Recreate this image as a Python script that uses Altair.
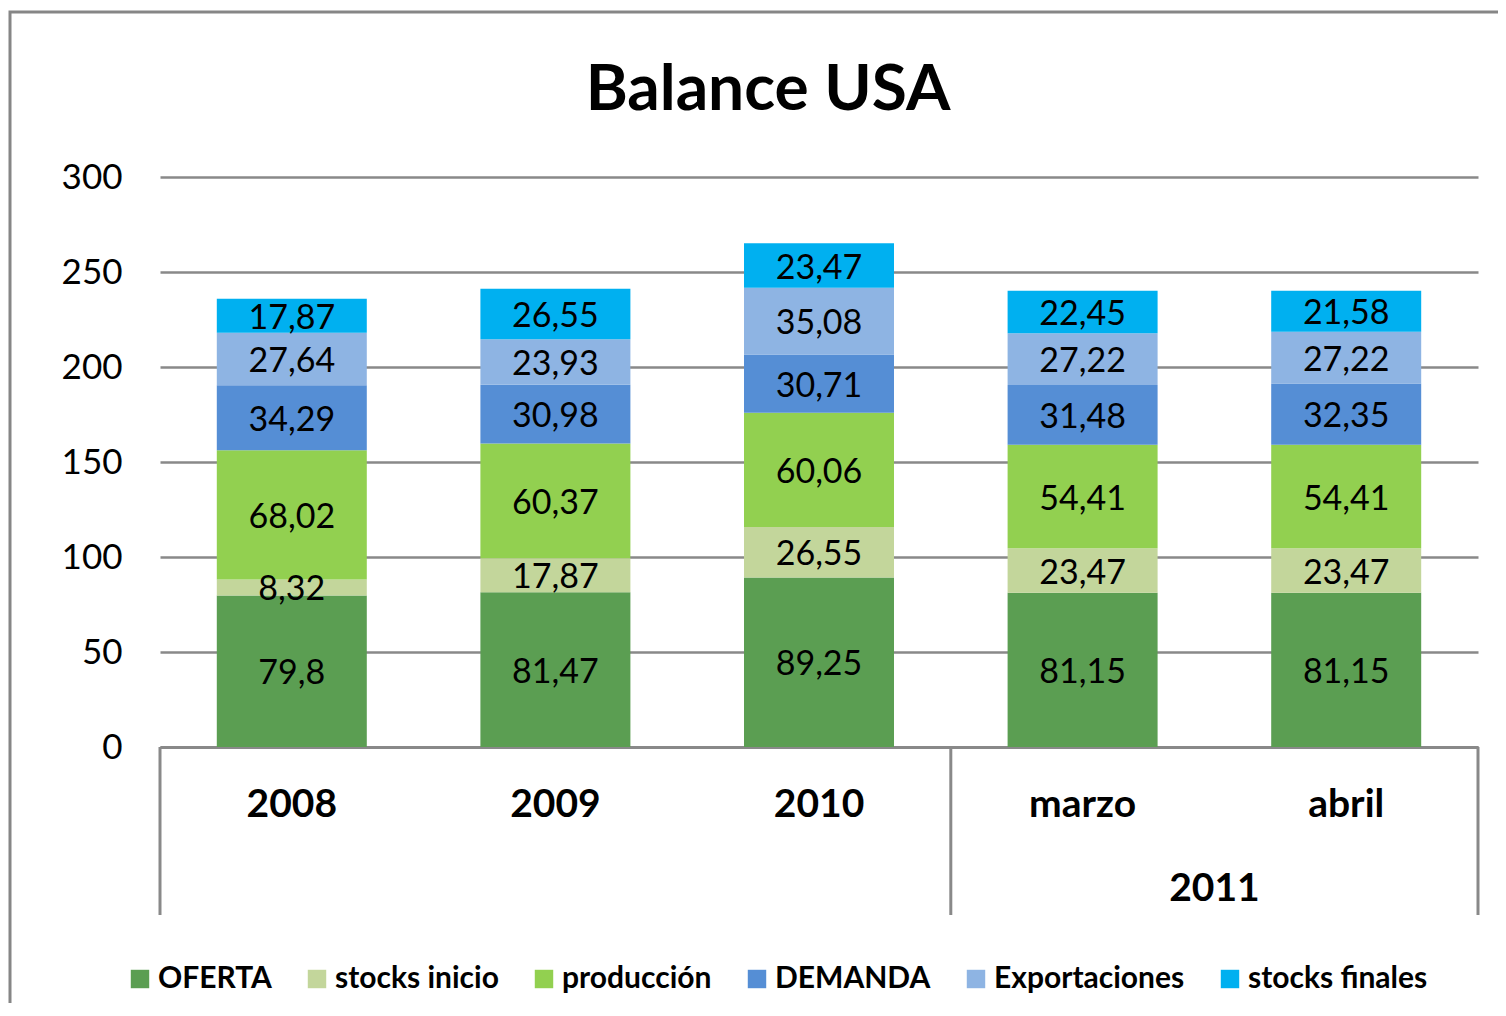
import altair as alt
import pandas as pd

chart_title = "Balance USA"
categories = ["2008", "2009", "2010", "marzo", "abril"]
group_label = "2011"
series = ["OFERTA", "stocks inicio", "producción", "DEMANDA", "Exportaciones", "stocks finales"]
colors = ["#5B9E52", "#C3D69B", "#92D050", "#558ED5", "#8EB4E3", "#00B0F0"]

oferta = [79.8, 81.47, 89.25, 81.15, 81.15]
stocks_inicio = [8.32, 17.87, 26.55, 23.47, 23.47]
produccion = [68.02, 60.37, 60.06, 54.41, 54.41]
demanda = [34.29, 30.98, 30.71, 31.48, 32.35]
exportaciones = [27.64, 23.93, 35.08, 27.22, 27.22]
stocks_finales = [17.87, 26.55, 23.47, 22.45, 21.58]
y_ticks = [0, 50, 100, 150, 200, 250, 300]

values = [oferta, stocks_inicio, produccion, demanda, exportaciones, stocks_finales]
rows = []
for si, (s, vals) in enumerate(zip(series, values)):
    for c, v in zip(categories, vals):
        rows.append({"cat": c, "serie": s, "order": si, "value": v,
                     "label": str(v).replace(".", ",")})
df = pd.DataFrame(rows)

GRID = "#898989"
FONT = "Lato"

x_enc = alt.X("cat:N", sort=categories,
              scale=alt.Scale(domain=categories, paddingInner=0, paddingOuter=0),
              axis=alt.Axis(title=None, labelAngle=0, labelFontSize=39, labelFontWeight="bold",
                            labelFont=FONT, labelColor="black", labelBaseline="middle",
                            labelPadding=57, ticks=False, tickSize=0,
                            domain=True, domainColor=GRID, domainWidth=3, grid=False))

base = alt.Chart(df).transform_stack(
    stack="value", as_=["y0", "y1"], groupby=["cat"],
    sort=[alt.SortField("order", order="ascending")]
).transform_calculate(mid="(datum.y0 + datum.y1) / 2")

bars = base.mark_bar(size=150).encode(
    x=x_enc,
    y=alt.Y("y1:Q", scale=alt.Scale(domain=[0, 300], nice=False),
            axis=alt.Axis(title=None, values=y_ticks, domain=False, ticks=False, tickSize=0,
                          labelFontSize=35, labelFont=FONT, labelColor="black", labelPadding=38,
                          gridColor=GRID, gridWidth=2.5, gridOpacity=1)),
    y2="y0:Q",
    color=alt.Color("serie:N", scale=alt.Scale(domain=series, range=colors),
                    legend=alt.Legend(title=None, orient="none", legendX=-35, legendY=787,
                                      direction="horizontal", symbolType="square",
                                      symbolSize=340, symbolStrokeWidth=0,
                                      labelFontSize=30, labelFontWeight="bold", labelFont=FONT,
                                      labelColor="black", columnPadding=30, labelOffset=3,
                                      labelLimit=0)),
)

labels = base.mark_text(fontSize=34, font=FONT, color="black", baseline="middle", dy=3).encode(
    x=alt.X("cat:N", sort=categories),
    y=alt.Y("mid:Q"),
    text="label:N",
)

sep_cats = [categories[0], categories[3], categories[4]]
sep_pos = [0, 0, 1]
seps = []
for c, bp in zip(sep_cats, sep_pos):
    seps.append(alt.Chart(pd.DataFrame({"cat": [c]})).mark_rule(color=GRID, strokeWidth=3).encode(
        x=alt.X("cat:N", sort=categories, bandPosition=bp),
        y=alt.value(570), y2=alt.value(738)))

group_text = alt.Chart(pd.DataFrame({"cat": [categories[3]], "t": [group_label]})).mark_text(
    fontSize=39, font=FONT, fontWeight="bold", color="black", baseline="middle").encode(
    x=alt.X("cat:N", sort=categories, bandPosition=1), y=alt.value(712), text="t:N")

title = alt.Chart(pd.DataFrame({"t": [chart_title]})).mark_text(
    fontSize=64, font=FONT, fontWeight="bold", color="black", baseline="middle").encode(
    x=alt.value(608), y=alt.value(-86), text="t:N")

frame = alt.Chart(pd.DataFrame({"a": [0]})).mark_rect(
    fill=None, stroke="#868686", strokeWidth=3).encode(
    x=alt.value(-150), x2=alt.value(1400), y=alt.value(-165), y2=alt.value(900))

chart = alt.layer(frame, bars, labels, *seps, group_text, title).properties(
    width=1318, height=570,
    padding={"left": 152, "top": 169, "right": 20, "bottom": 256},
    autosize=alt.AutoSizeParams(type="none"),
).configure(font=FONT, background="white").configure_view(stroke=None)

chart.save("out.html", embed_options={"renderer": "svg", "actions": False})
